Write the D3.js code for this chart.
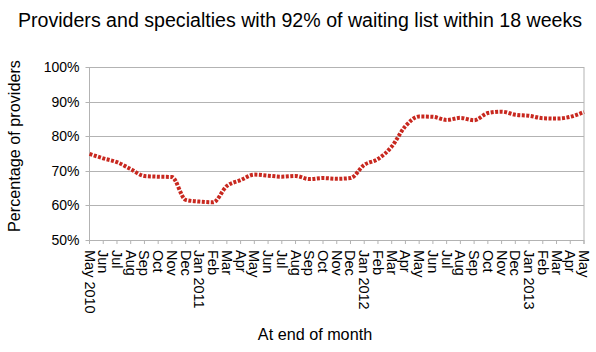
<!DOCTYPE html>
<html>
<head>
<meta charset="utf-8">
<script src="https://cdn.jsdelivr.net/npm/d3@7"></script>
<style>
body { margin: 0; background: #fff; }
text { font-family: "Liberation Sans", Arial, sans-serif; fill: #000; }
</style>
</head>
<body>
<div id="chart"></div>
<script>
// months, end of month
var months = ["May 2010","Jun","Jul","Aug","Sep","Oct","Nov","Dec","Jan 2011","Feb","Mar","Apr",
	"May","Jun","Jul","Aug","Sep","Oct","Nov","Dec","Jan 2012","Feb","Mar","Apr",
	"May","Jun","Jul","Aug","Sep","Oct","Nov","Dec","Jan 2013","Feb","Mar","Apr","May"];
var values = [74.9,73.6,72.5,70.5,68.5,68.3,68.2,61.6,61.1,60.9,65.6,67.3,
	68.9,68.6,68.3,68.5,67.6,67.9,67.7,67.9,71.7,73.4,77.0,82.9,
	85.7,85.6,84.7,85.3,84.6,86.7,87.1,86.2,85.9,85.2,85.1,85.6,87.0];
var yTicks = [50,60,70,80,90,100];

var W = 596, H = 352;
var plotL = 89.5, plotR = 584, plotT = 67, plotB = 240;

var svg = d3.select("#chart").append("svg")
	.attr("width", W)
	.attr("height", H);

var x = d3.scalePoint()
	.domain(d3.range(months.length))
	.range([plotL, plotR]);

var y = d3.scaleLinear()
	.domain([50, 100])
	.range([plotB, plotT]);

// grid lines
svg.append("g")
	.selectAll("line")
	.data(yTicks)
	.enter().append("line")
	.attr("x1", plotL - 4)
	.attr("x2", plotR)
	.attr("y1", function(d){ return Math.round(y(d)) + 0.5; })
	.attr("y2", function(d){ return Math.round(y(d)) + 0.5; })
	.attr("stroke", "#b3b3b3")
	.attr("stroke-width", 1);

// left and right frame
svg.append("line")
	.attr("x1", plotL).attr("x2", plotL)
	.attr("y1", plotT).attr("y2", plotB + 4)
	.attr("stroke", "#b3b3b3");
svg.append("line")
	.attr("x1", plotR).attr("x2", plotR)
	.attr("y1", plotT).attr("y2", plotB + 4)
	.attr("stroke", "#b3b3b3");

// y tick labels
svg.append("g")
	.selectAll("text")
	.data(yTicks)
	.enter().append("text")
	.attr("x", plotL - 10)
	.attr("y", function(d){ return y(d) + 5; })
	.attr("text-anchor", "end")
	.style("font-size", "14px")
	.text(function(d){ return d + "%"; });

// x ticks
svg.append("g")
	.selectAll("line")
	.data(d3.range(months.length))
	.enter().append("line")
	.attr("x1", function(d){ return x(d); })
	.attr("x2", function(d){ return x(d); })
	.attr("y1", plotB)
	.attr("y2", plotB + 4)
	.attr("stroke", "#b3b3b3");

// x labels, rotated
svg.append("g")
	.selectAll("text")
	.data(months)
	.enter().append("text")
	.attr("transform", function(d, i){ return "translate(" + (x(i) - 5) + "," + 250 + ") rotate(90)"; })
	.attr("text-anchor", "start")
	.style("font-size", "14.5px")
	.text(function(d){ return d; });

// line
var line = d3.line()
	.x(function(d, i){ return x(i); })
	.y(function(d){ return y(d); })
	.curve(d3.curveMonotoneX);

svg.append("path")
	.datum(values)
	.attr("d", line)
	.attr("fill", "none")
	.attr("stroke", "#c8281f")
	.attr("stroke-width", 4)
	.attr("stroke-dasharray", "3,1.5");

// titles
svg.append("text")
	.attr("x", 300)
	.attr("y", 27)
	.attr("text-anchor", "middle")
	.style("font-size", "19.6px")
	.text("Providers and specialties with 92% of waiting list within 18 weeks");

svg.append("text")
	.attr("transform", "translate(20,146) rotate(-90)")
	.attr("text-anchor", "middle")
	.style("font-size", "16.2px")
	.text("Percentage of providers");

svg.append("text")
	.attr("x", 315)
	.attr("y", 340)
	.attr("text-anchor", "middle")
	.style("font-size", "16.2px")
	.text("At end of month");
</script>
</body>
</html>
